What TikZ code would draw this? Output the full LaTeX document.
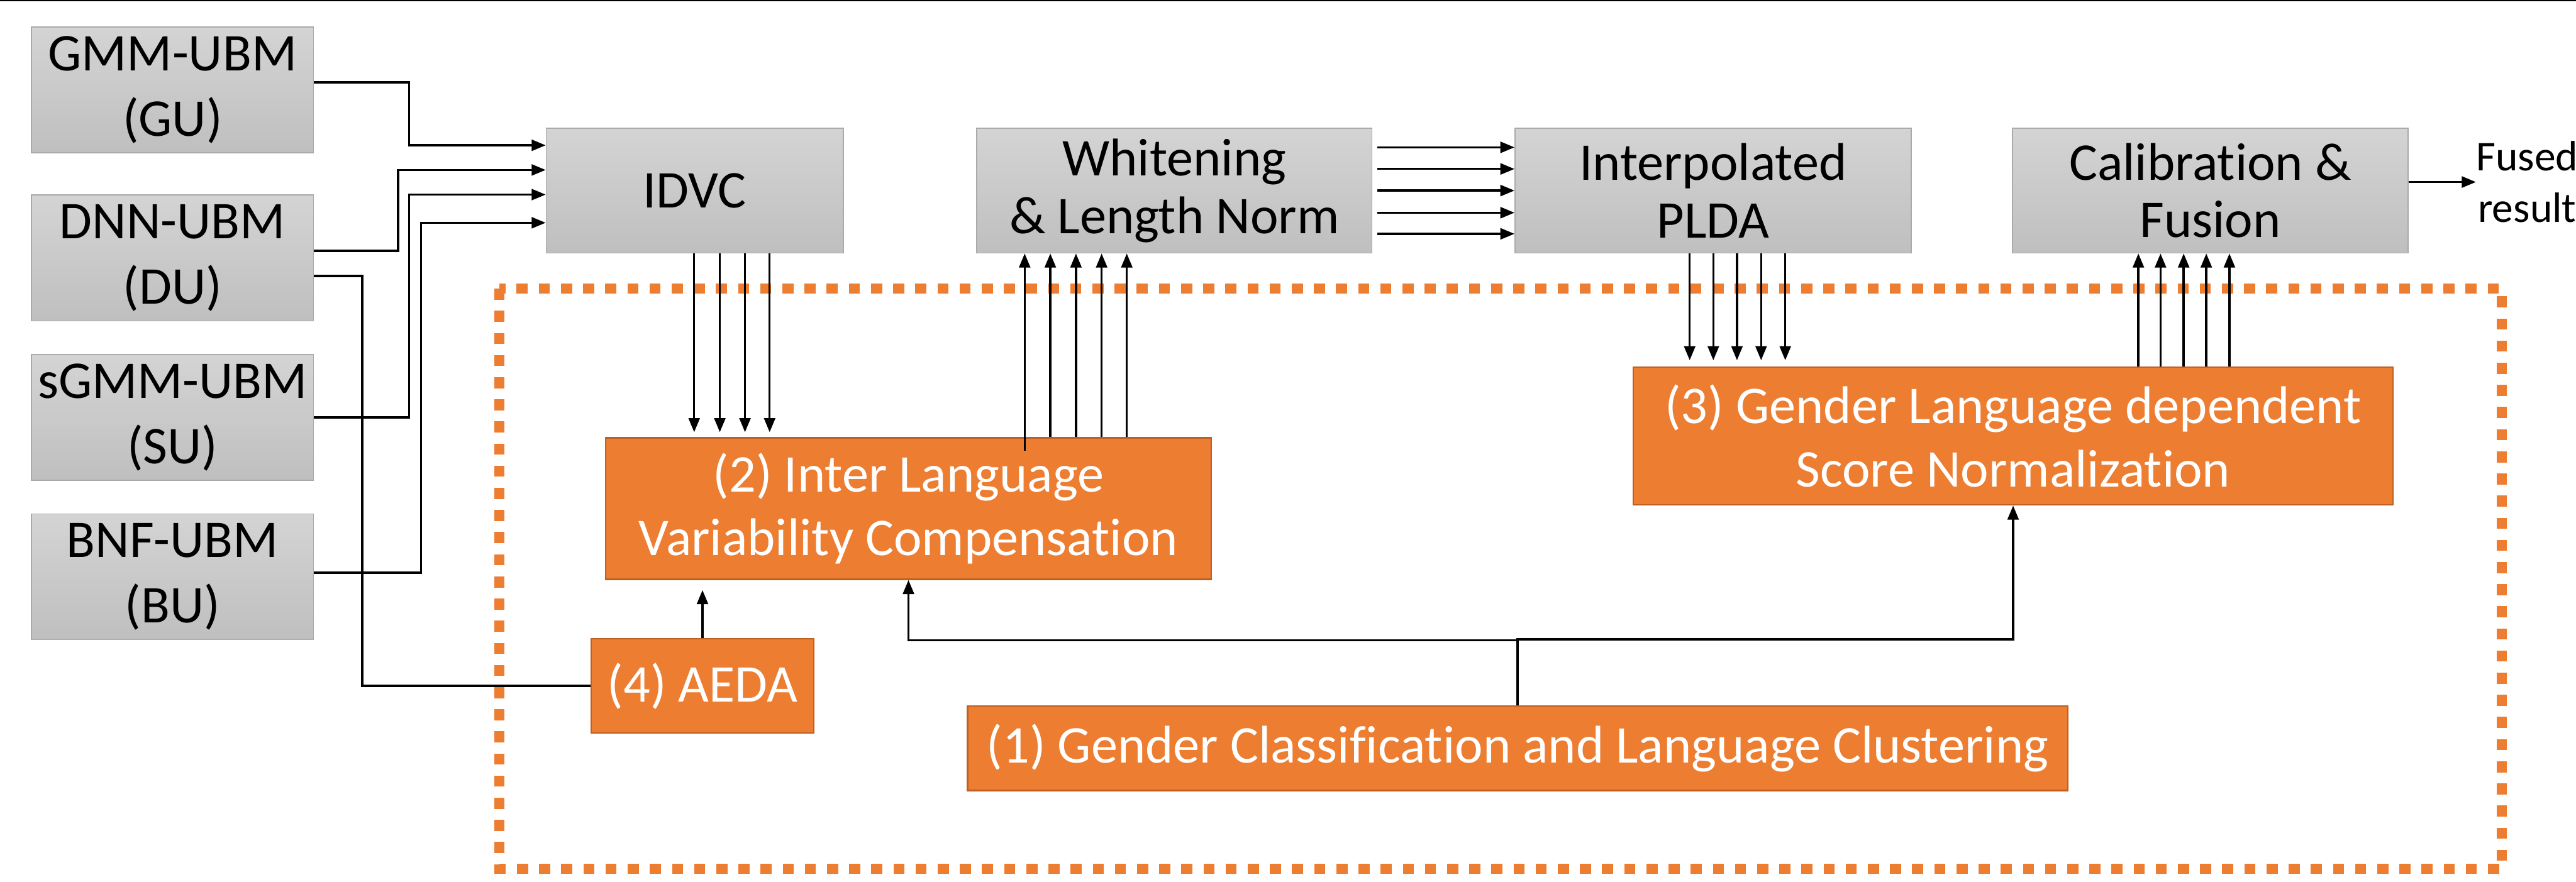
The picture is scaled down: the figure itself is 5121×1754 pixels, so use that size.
\documentclass[tikz,border=0pt]{standalone}
\usepackage{fontspec}
\setmainfont{Carlito}[Ligatures=NoCommon]
\usepackage{tikz}
\usetikzlibrary{arrows.meta}

\definecolor{boxtop}{RGB}{212,212,212}
\definecolor{boxbottom}{RGB}{191,191,191}
\definecolor{boxline}{RGB}{170,170,170}
\definecolor{orangefill}{RGB}{237,125,49}
\definecolor{orangeline}{RGB}{190,96,34}

\tikzset{
    graybox/.style={draw=boxline, line width=0.6pt, top color=boxtop, bottom color=boxbottom,
        align=center, inner sep=0pt, font=\fontsize{30}{37}\selectfont},
    midbox/.style={graybox, minimum height=2.48cm, font=\fontsize{30}{32.6}\selectfont},
    orangebox/.style={draw=orangeline, line width=0.8pt, fill=orangefill, text=white,
        align=center, inner sep=0pt, font=\fontsize{30}{36}\selectfont},
    arr/.style={line width=1.2pt, -{Triangle[length=0.28cm,width=0.22cm]}},
    link/.style={line width=1.2pt},
    dotframe/.style={draw=orangefill, line width=0.2cm, dash pattern=on 0.22cm off 0.22cm}
}

\begin{document}
\begin{tikzpicture}[x=0.01cm, y=-0.01cm]
    \useasboundingbox (0,0) rectangle (5121,1754);
    \draw[line width=0.03cm] (0,1) -- (5121,1);
    \draw[dotframe] (993,574) rectangle (4974,1728);

    \node[graybox, minimum width=5.6cm, minimum height=2.5cm] (gu) at (343,179) {GMM-UBM\\(GU)};
    \node[graybox, minimum width=5.6cm, minimum height=2.5cm] (du) at (343,513) {DNN-UBM\\(DU)};
    \node[graybox, minimum width=5.6cm, minimum height=2.5cm] (su) at (343,830) {sGMM-UBM\\(SU)};
    \node[graybox, minimum width=5.6cm, minimum height=2.5cm] (bu) at (343,1147) {BNF-UBM\\(BU)};

    \node[midbox, minimum width=5.9cm] (idvc) at (1381,379) {IDVC};
    \node[midbox, minimum width=7.85cm] (wln) at (2334.5,379) {Whitening\\\& Length Norm};
    \node[midbox, minimum width=7.87cm] (plda) at (3405.5,379) {Interpolated\\PLDA};
    \node[midbox, minimum width=7.86cm] (cal) at (4394,379) {Calibration \&\\Fusion};
    \node[anchor=west, inner sep=0pt, align=center, font=\fontsize{24}{29}\selectfont] (fused) at (4922,362) {Fused\\result};

    \node[orangebox, minimum width=12.04cm, minimum height=2.81cm] (ilvc) at (1806,1011.5) {(2) Inter Language\\Variability Compensation};
    \node[orangebox, minimum width=4.43cm, minimum height=1.88cm] (aeda) at (1396.5,1364) {(4) AEDA};
    \node[orangebox, minimum width=15.1cm, minimum height=2.74cm] (gln) at (4002,867) {(3) Gender Language dependent\\Score Normalization};
    \node[orangebox, minimum width=21.86cm, minimum height=1.68cm] (gc) at (3017,1488) {(1) Gender Classification and Language Clustering};

    \draw[arr] ([yshift=0.15cm]gu.east) -- ++(189,0) |- ([yshift=0.9cm]idvc.west);
    \draw[arr] ([yshift=0.14cm]du.east) -- ++(167,0) |- ([yshift=0.41cm]idvc.west);
    \draw[arr] (su.east) -- ++(189,0) |- ([yshift=-0.08cm]idvc.west);
    \draw[arr] ([yshift=0.08cm]bu.east) -- ++(213,0) |- ([yshift=-0.64cm]idvc.west);
    \draw[link] ([yshift=-0.36cm]du.east) -- ++(96,0) |- (aeda.west);

    \foreach \x in {1380,1431,1481,1530} {
        \draw[arr, shorten >=0.1cm] (idvc.south -| \x,0) -- (ilvc.north -| \x,0);
    }
    \foreach \x in {2037,2088,2139,2190,2240} {
        \draw[arr] (ilvc.north -| \x,0) -- (wln.south -| \x,0);
    }
    \draw[link] (ilvc.north -| 2037,0) -- ++(0,27);
    \foreach \y in {293,336,379,423,465} {
        \draw[arr, shorten <=0.1cm] (wln.east |- 0,\y) -- (plda.west |- 0,\y);
    }
    \foreach \x in {3359,3406,3453,3501,3549} {
        \draw[arr, shorten >=0.12cm] (plda.south -| \x,0) -- (gln.north -| \x,0);
    }
    \foreach \x in {4251,4295,4341,4386,4432} {
        \draw[arr] (gln.north -| \x,0) -- (cal.south -| \x,0);
    }

    \draw[arr] (cal.east |- fused.west) -- (fused.west);
    \draw[arr, shorten >=0.2cm] (aeda.north) -- (ilvc.south -| aeda.north);
    \draw[arr] (gc.north) -- ++(0,-129) -| (ilvc.south);
    \draw[arr] (gc.north) -- ++(0,-131) -| (gln.south);
\end{tikzpicture}
\end{document}
